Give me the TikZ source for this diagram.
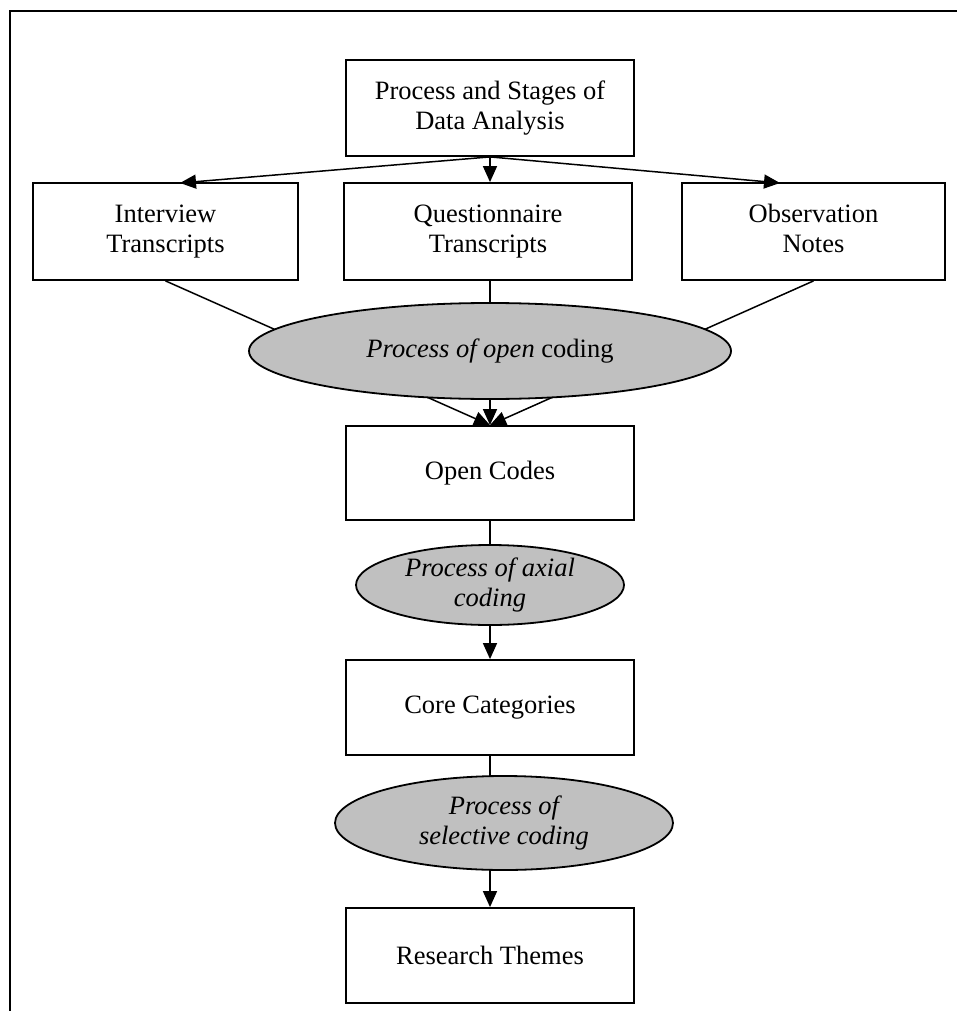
\documentclass[tikz,border=0pt]{standalone}
\usepackage{fontspec}
\setmainfont{Liberation Serif}
\usetikzlibrary{arrows.meta,shapes.geometric,backgrounds}
\definecolor{ellgray}{RGB}{192,192,192}
\begin{document}
\begin{tikzpicture}[x=1pt,y=-1pt,
 box/.style={draw,line width=1.8pt,minimum width=288pt,minimum height=95pt,inner sep=0pt,align=center,font=\fontsize{26.5}{30}\selectfont},
 proc/.style={ellipse,draw,line width=1.8pt,fill=ellgray,inner sep=0pt,align=center,font=\fontsize{26.5}{30}\selectfont\itshape},
 conn/.style={line width=1.5pt},
 arr/.style={conn,-{Triangle[length=16pt,width=14pt]}}]
\useasboundingbox (0,0) rectangle (957,1011);
\draw[line width=2.4pt] (10,1011) -- (10,11) -- (957,11);

\node[box,minimum height=96pt] (top) at (490,108) {Process and Stages of\\Data Analysis};
\node[box,minimum width=265pt,minimum height=97pt] (left) at (165.5,231.5) {Interview\\Transcripts};
\node[box,minimum height=97pt] (mid) at (488,231.5) {Questionnaire\\Transcripts};
\node[box,minimum width=263pt,minimum height=97pt] (right) at (813.5,231.5) {Observation\\Notes\vphantom{p}};
\node[proc,minimum width=482pt,minimum height=96pt] (open) at (490,351) {Process of open \upshape coding};
\node[box,minimum height=94pt] (oc) at (490,473) {Open Codes};
\node[proc,minimum width=268pt,minimum height=80pt] (axial) at (490,585) {Process of axial\\coding};
\node[box] (core) at (490,707.5) {Core Categories};
\node[proc,minimum width=338pt,minimum height=94pt] (sel) at (504,823) {Process of\\selective coding};
\node[box] (res) at (490,955.5) {Research Themes};

\coordinate (lt) at (180,183);
\coordinate (rt) at (780,183);
\draw[arr] (top.south) -- (lt);
\draw[arr] (top.south) -- (rt);
\draw[arr] (top.south) -- (top.south |- mid.north);

\begin{scope}[on background layer]
\draw[arr] (left.south) -- (oc.north);
\draw[arr] (mid.south -| oc.north) -- (oc.north);
\draw[arr] (right.south) -- (oc.north);
\draw[conn] (core.south) -- (core.south |- sel.center);
\draw[arr] (res.north |- sel.center) -- (res.north);
\end{scope}
\draw[conn] (oc.south) -- (axial.north);
\draw[arr] (axial.south) -- (core.north);
\end{tikzpicture}
\end{document}
